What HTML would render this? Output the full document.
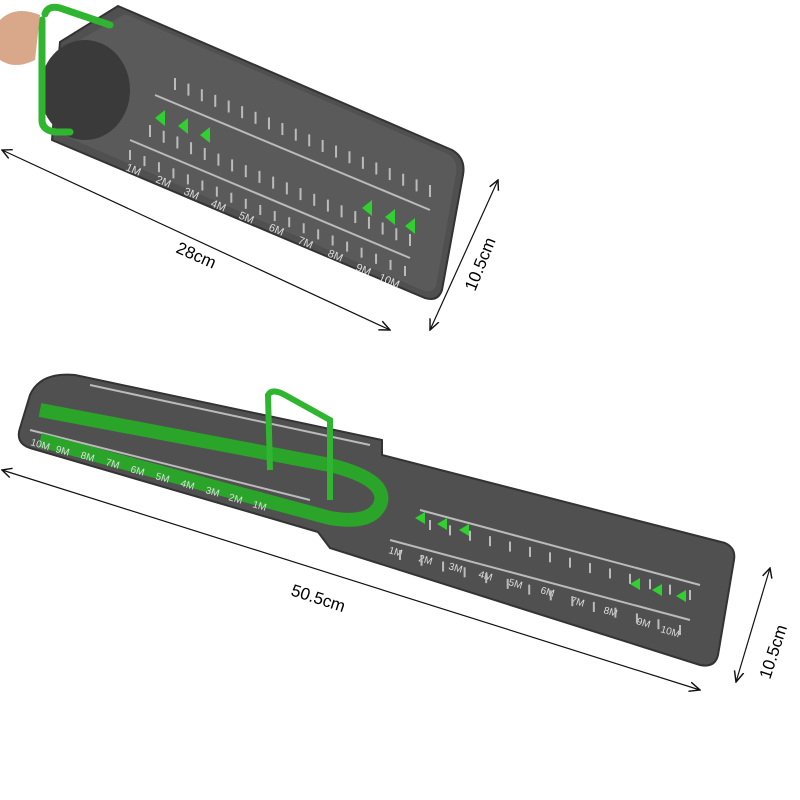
<!DOCTYPE html>
<html><head><meta charset="utf-8"><style>
html,body{margin:0;padding:0;background:#fff;width:800px;height:800px;overflow:hidden}
text{font-family:"Liberation Sans",sans-serif}
</style></head><body>
<svg id="s" width="800" height="800" viewBox="0 0 800 800" xmlns="http://www.w3.org/2000/svg">
<defs>
<marker id="a" markerWidth="10" markerHeight="10" refX="9" refY="5" orient="auto"><path d="M0,1 L9,5 L0,9" fill="none" stroke="#111" stroke-width="1.2"/></marker>
<marker id="b" markerWidth="10" markerHeight="10" refX="1" refY="5" orient="auto"><path d="M9,1 L1,5 L9,9" fill="none" stroke="#111" stroke-width="1.2"/></marker>
</defs>
<!-- top mat -->
<path d="M118,6 L452,150 Q466,158 463,175 L442,290 Q438,302 425,298 L52,140 L60,42 Z" fill="#505050" stroke="#333" stroke-width="2"/>
<path d="M125,14 L448,154 Q458,160 456,174 L436,286 Q432,294 422,290 L60,134 L66,48 Z" fill="#5a5a5a"/>
<ellipse cx="85" cy="90" rx="45" ry="50" fill="#3a3a3a"/>
<path d="M42,20 L42,120 Q42,130 55,132 L70,132 M45,14 Q48,5 60,8 L110,25" fill="none" stroke="#2fb52f" stroke-width="7" stroke-linecap="round"/>
<path d="M0,20 Q15,5 40,15 L35,60 Q15,70 0,60Z" fill="#d9a88a"/>
<g stroke="#bbb" stroke-width="2">
<line x1="155" y1="95" x2="430" y2="210"/>
<line x1="130" y1="140" x2="410" y2="258"/>
</g>
<g fill="#2fd02f">
<polygon points="155,118 165,110 165,126"/><polygon points="178,126 188,118 188,134"/><polygon points="200,135 210,127 210,143"/>
<polygon points="362,208 372,200 372,216"/><polygon points="385,217 395,209 395,225"/><polygon points="405,226 415,218 415,234"/>
</g>
<g fill="#ddd" font-size="11">
<text x="125" y="170" transform="rotate(23 125 170)">1M</text><text x="155" y="182" transform="rotate(23 155 182)">2M</text><text x="183" y="194" transform="rotate(23 183 194)">3M</text><text x="210" y="206" transform="rotate(23 210 206)">4M</text><text x="238" y="218" transform="rotate(23 238 218)">5M</text><text x="268" y="230" transform="rotate(23 268 230)">6M</text><text x="297" y="243" transform="rotate(23 297 243)">7M</text><text x="327" y="256" transform="rotate(23 327 256)">8M</text><text x="355" y="270" transform="rotate(23 355 270)">9M</text><text x="378" y="280" transform="rotate(23 378 280)">10M</text>
</g>
<!-- dim lines top -->
<line x1="2" y1="150" x2="390" y2="330" stroke="#111" stroke-width="1.2" marker-start="url(#b)" marker-end="url(#a)"/>
<text x="175" y="252" font-size="17" transform="rotate(24 175 252)">28cm</text>
<line x1="498" y1="180" x2="430" y2="330" stroke="#111" stroke-width="1.2" marker-start="url(#b)" marker-end="url(#a)"/>
<text x="475" y="292" font-size="17" transform="rotate(-68 475 292)">10.5cm</text>
<!-- bottom mat -->
<path d="M75,375 L382,440 L382,455 L725,543 Q736,548 734,560 L718,655 Q715,668 700,665 L330,548 L318,532 L30,448 Q15,443 20,428 L30,395 Q40,372 75,375Z" fill="#505050" stroke="#333" stroke-width="2"/>
<g stroke="#bbb" stroke-width="2">
<line x1="90" y1="385" x2="370" y2="445"/><line x1="30" y1="430" x2="310" y2="500"/>
<line x1="420" y1="510" x2="700" y2="585"/><line x1="390" y1="540" x2="690" y2="620"/>
</g>
<g id="ticks" stroke="#bbb" stroke-width="2"></g>
<path d="M40,410 L330,465 Q390,480 380,505 Q370,525 330,518 L40,440" fill="none" stroke="#2aa52a" stroke-width="14"/>
<path d="M270,470 L268,395 Q272,388 285,395 L330,420 L330,500" fill="none" stroke="#2fb52f" stroke-width="6"/>
<g fill="#2fd02f">
<polygon points="415,518 425,512 425,524"/><polygon points="437,524 447,518 447,530"/><polygon points="459,530 469,524 469,536"/>
<polygon points="630,584 640,578 640,590"/><polygon points="652,590 662,584 662,596"/><polygon points="676,596 686,590 686,602"/>
</g>
<g fill="#ddd" font-size="10">
<text x="388" y="553" transform="rotate(16 388 553)">1M</text><text x="418" y="561" transform="rotate(16 418 561)">2M</text><text x="448" y="569" transform="rotate(16 448 569)">3M</text><text x="478" y="577" transform="rotate(16 478 577)">4M</text><text x="508" y="585" transform="rotate(16 508 585)">5M</text><text x="540" y="593" transform="rotate(16 540 593)">6M</text><text x="570" y="603" transform="rotate(16 570 603)">7M</text><text x="603" y="613" transform="rotate(16 603 613)">8M</text><text x="636" y="624" transform="rotate(16 636 624)">9M</text><text x="660" y="632" transform="rotate(16 660 632)">10M</text>
<text x="30" y="445" transform="rotate(16 30 445)">10M</text><text x="55" y="452" transform="rotate(16 55 452)">9M</text><text x="80" y="458" transform="rotate(16 80 458)">8M</text><text x="105" y="465" transform="rotate(16 105 465)">7M</text><text x="130" y="472" transform="rotate(16 130 472)">6M</text><text x="155" y="479" transform="rotate(16 155 479)">5M</text><text x="180" y="486" transform="rotate(16 180 486)">4M</text><text x="205" y="493" transform="rotate(16 205 493)">3M</text><text x="228" y="500" transform="rotate(16 228 500)">2M</text><text x="252" y="507" transform="rotate(16 252 507)">1M</text>
</g>
<!-- dim lines bottom -->
<line x1="2" y1="470" x2="700" y2="690" stroke="#111" stroke-width="1.2" marker-start="url(#b)" marker-end="url(#a)"/>
<text x="290" y="595" font-size="17" transform="rotate(18 290 595)">50.5cm</text>
<line x1="770" y1="568" x2="736" y2="682" stroke="#111" stroke-width="1.2" marker-start="url(#b)" marker-end="url(#a)"/>
<text x="770" y="680" font-size="17" transform="rotate(-72 770 680)">10.5cm</text>
<g id="ticks2" stroke="#bbb" stroke-width="2"></g>
</svg>
<script>
(function(){
var g=document.getElementById('ticks2');
function row(x1,y1,x2,y2,n,len){
 for(var i=0;i<n;i++){var t=i/(n-1);var x=x1+(x2-x1)*t,y=y1+(y2-y1)*t;
  var l=document.createElementNS('http://www.w3.org/2000/svg','line');
  l.setAttribute('x1',x);l.setAttribute('y1',y);l.setAttribute('x2',x);l.setAttribute('y2',y+len);g.appendChild(l);}
}
row(175,78,430,185,20,12);
row(150,125,410,234,20,12);
row(130,150,405,266,20,10);
row(430,520,690,590,14,10);
row(400,550,680,625,14,10);
})();
</script>
</body></html>
